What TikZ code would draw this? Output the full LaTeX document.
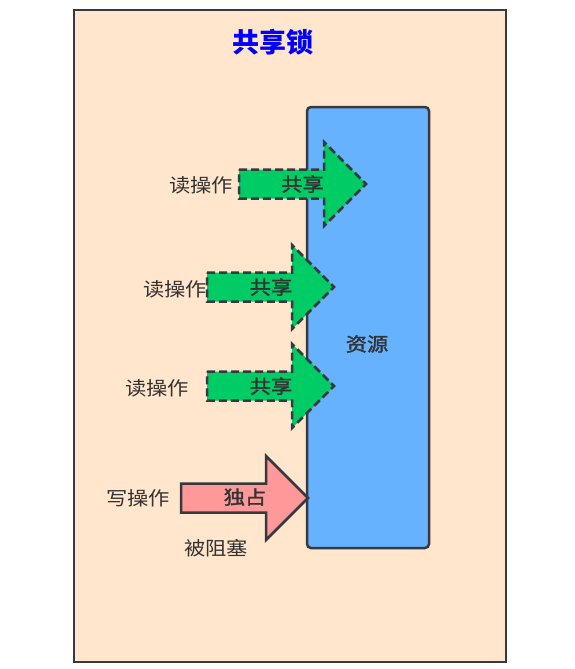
\documentclass[tikz,border=0pt]{standalone}
\usepackage{fontspec}
\newfontfamily\cjk[FakeStretch=1.12]{Noto Sans CJK SC}
\newfontfamily\cjkmed[FakeStretch=1.12,FakeBold=1.6]{Noto Sans CJK SC}
\newfontfamily\cjktitle{Noto Sans CJK SC}
\definecolor{framefill}{HTML}{FFE6CC}
\definecolor{strokec}{HTML}{36393D}
\definecolor{resfill}{HTML}{66B2FF}
\definecolor{greenfill}{HTML}{00CC66}
\definecolor{redfill}{HTML}{FF9999}
\definecolor{txt}{HTML}{333333}
\tikzset{
  lbl/.style={font=\cjk\fontsize{19}{19}\selectfont, text=txt, inner sep=0pt},
  blbl/.style={font=\cjkmed\fontsize{19}{19}\selectfont, text=txt, inner sep=0pt},
  sharearrow/.style={fill=greenfill, draw=strokec, line width=2.5pt, dash pattern=on 8pt off 4pt, line join=miter},
  lockarrow/.style={fill=redfill, draw=strokec, line width=2.5pt, line join=miter},
}
% #1 left x, #2 centre y, #3 style
\newcommand{\bigarrow}[3]{%
  \path[#3] (#1,#2-14.5) -- ++(85,0) -- ++(0,-27.5) -- ++(42,42) -- ++(-42,42) -- ++(0,-27.5) -- ++(-85,0) -- cycle;
}
\begin{document}
\begin{tikzpicture}[x=1pt,y=-1pt]
\useasboundingbox (0,0) rectangle (574,669);
\path[fill=framefill, draw=strokec, line width=2.5pt] (74,10) rectangle (506,662);
\node[font=\cjktitle\bfseries\fontsize{27}{27}\selectfont, text=blue, inner sep=0pt] (title) at (273,42) {共享锁};
\path[fill=resfill, draw=strokec, line width=2.5pt, rounded corners=4pt] (307,107) rectangle (429,548);
\node[blbl] (res) at (367,344) {资源};

\bigarrow{239}{184}{sharearrow}
\node[blbl] (s1) at (302.5,184) {共享};
\node[lbl] (r1) at (201,185) {读操作};

\bigarrow{207}{287}{sharearrow}
\node[blbl] (s2) at (271,287) {共享};
\node[lbl] (r2) at (175,289) {读操作};

\bigarrow{207}{386}{sharearrow}
\node[blbl] (s3) at (271,386) {共享};
\node[lbl] (r3) at (157,388) {读操作};

\bigarrow{181}{498}{lockarrow}
\node[blbl] (x1) at (245,497) {独占};
\node[lbl] (w1) at (138,498) {写操作};
\node[lbl] (blk) at (216,548) {被阻塞};
\end{tikzpicture}
\end{document}
